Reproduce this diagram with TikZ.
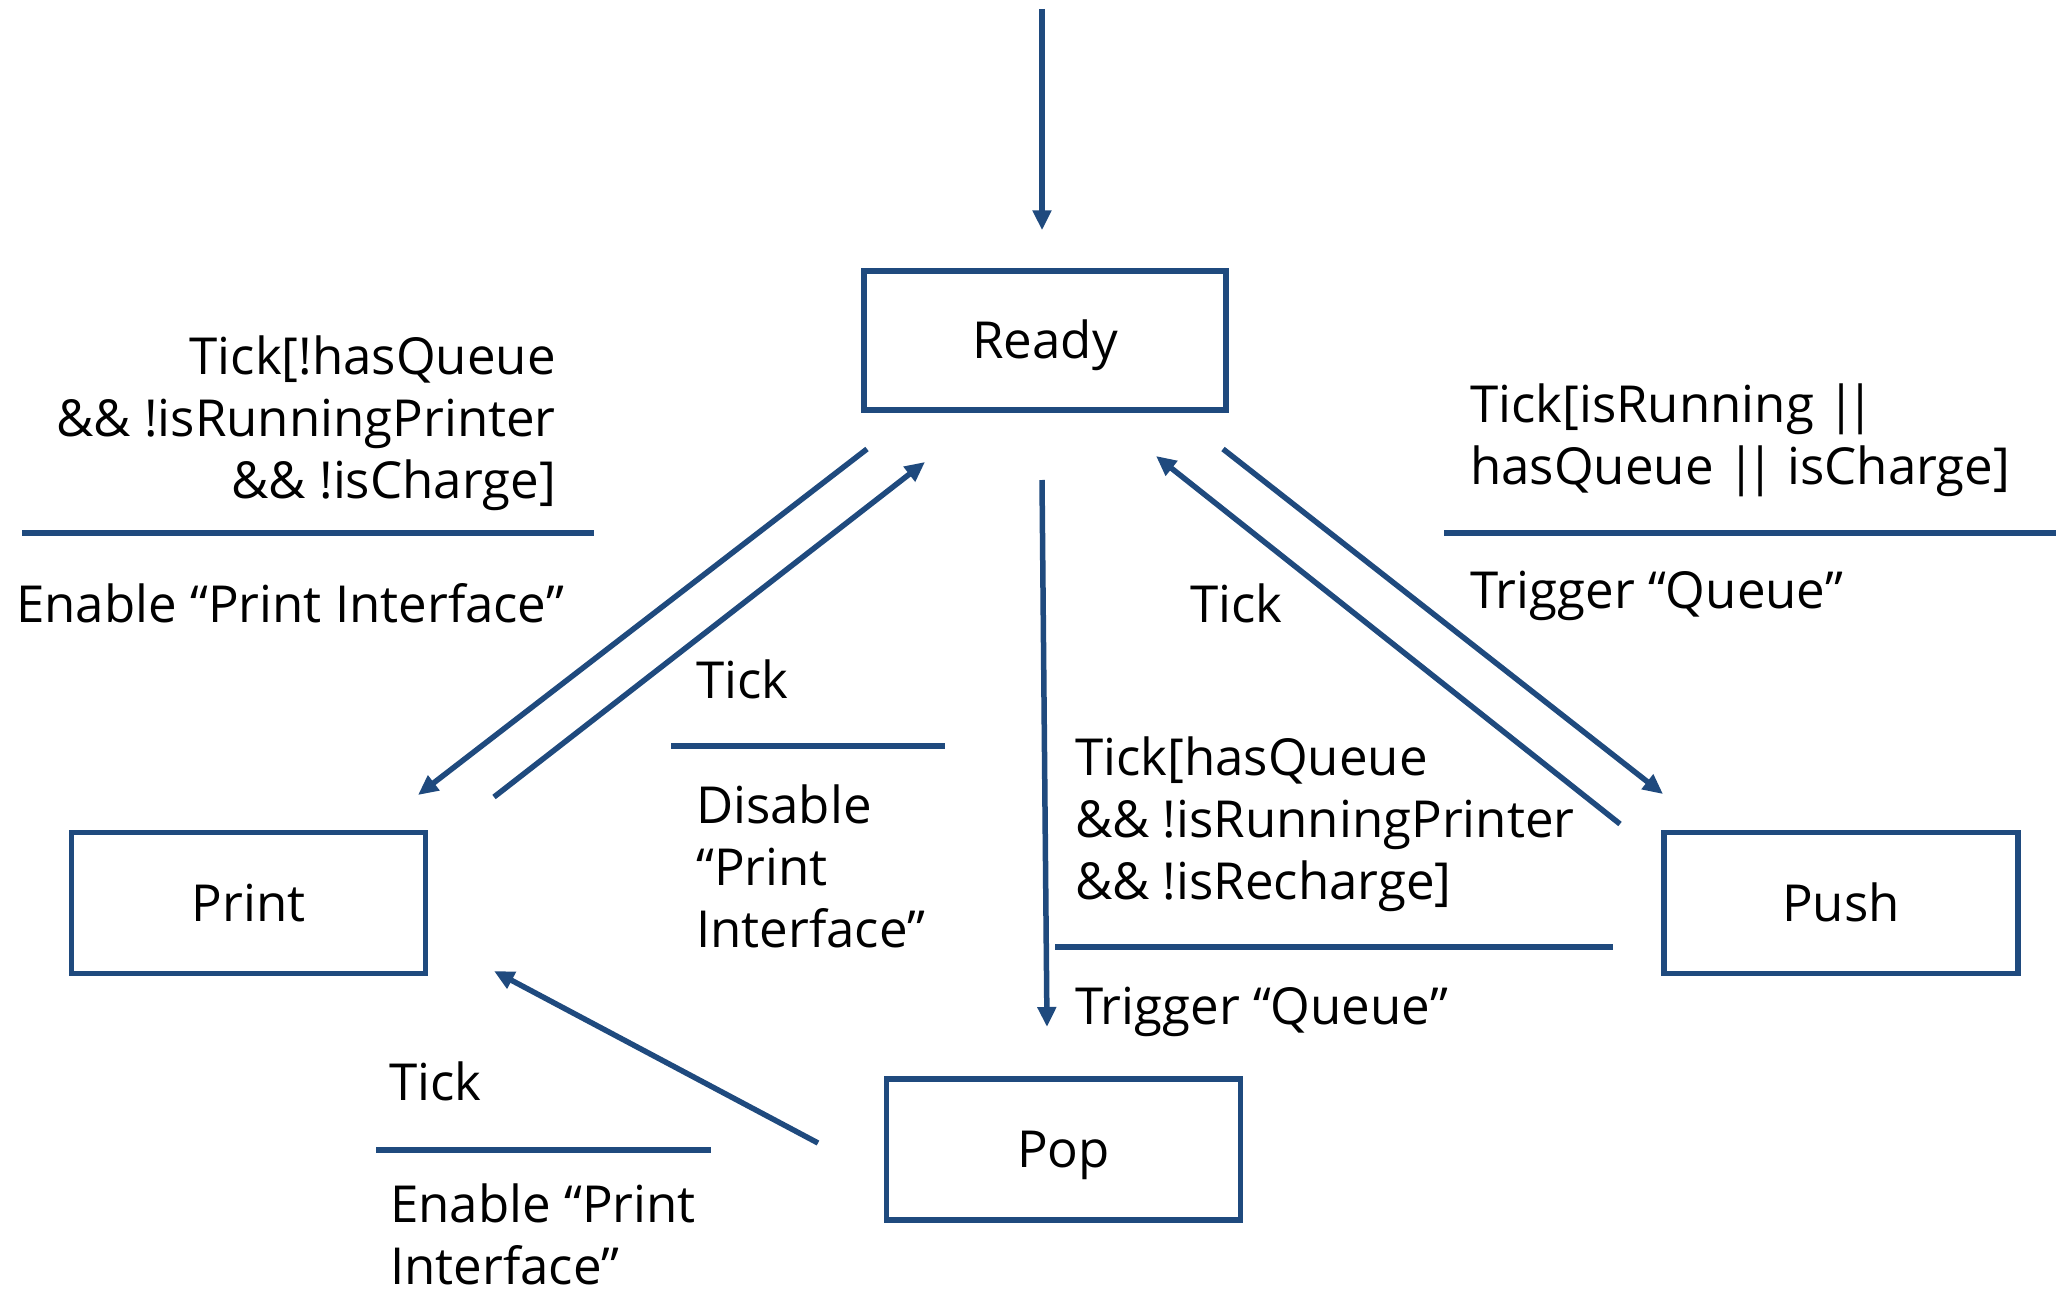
\documentclass[tikz,border=0pt]{standalone}
\usepackage{fontspec}
\setmainfont{Open Sans}
\usetikzlibrary{arrows.meta}
\definecolor{edge}{HTML}{1F4A7E}
\newcommand{\bars}{|\kern-9pt|}
\begin{document}
\begin{tikzpicture}[x=1pt,y=-1pt,
  statebox/.style={draw=edge, line width=5.5pt, minimum width=354pt, minimum height=141pt, inner sep=0pt, text height=36pt, text depth=-4pt, font=\fontsize{51}{62}\selectfont},
  trans/.style={draw=edge, line width=5.5pt, -{Triangle[length=20pt,width=18pt]}},
  sepline/.style={draw=edge, line width=5.5pt},
  lbl/.style={inner sep=0pt, font=\fontsize{51}{62}\selectfont, align=left, anchor=base west},
  lblr/.style={lbl, align=right, anchor=base east}]
\useasboundingbox (0,0) rectangle (2060,1292);
% states
\node[statebox, minimum width=362pt, minimum height=139pt] (ready) at (1045,340.5) {Ready};
\node[statebox] (print) at (248.5,903) {Print};
\node[statebox] (push) at (1841,903) {Push};
\node[statebox] (pop) at (1063.5,1149.5) {Pop};
% connector ends
\coordinate (init) at (1042,9);
\coordinate (rp1) at (867,449);   \coordinate (rp2) at (418,795);
\coordinate (pr1) at (494,797);   \coordinate (pr2) at (925,462);
\coordinate (ro1) at (1042,480);  \coordinate (ro2) at (1047,1027);
\coordinate (hr1) at (1620,824);  \coordinate (hr2) at (1156,456);
\coordinate (rh1) at (1223,449);  \coordinate (rh2) at (1663,794);
\coordinate (op1) at (818,1143);  \coordinate (op2) at (494,971);
% transitions
\draw[trans, shorten >=38pt] (init) -- (init |- ready.north);
\draw[trans] (rp1) -- (rp2);
\draw[trans] (pr1) -- (pr2);
\draw[trans] (ro1) -- (ro2);
\draw[trans] (hr1) -- (hr2);
\draw[trans] (rh1) -- (rh2);
\draw[trans] (op1) -- (op2);
% separators
\draw[sepline] (22,533) -- (594,533);
\draw[sepline] (671,746) -- (945,746);
\draw[sepline] (1055,947) -- (1613,947);
\draw[sepline] (1444,533) -- (2056,533);
\draw[sepline] (376,1150) -- (711,1150);
% labels (base anchor = baseline of the last line)
\node[lblr] (t1) at (556,498) {Tick[!hasQueue\\\&\& !isRunningPrinter\\\&\& !isCharge]};
\node[lbl] (t1b) at (16,622) {Enable “Print Interface”};
\node[lbl] (t2) at (696,698) {Tick};
\node[lbl] (t2b) at (696,947) {Disable\\“Print\\Interface”};
\node[lbl] (t3) at (1190,622) {Tick};
\node[lbl] (t4) at (1470,484) {Tick[isRunning \bars\\hasQueue \bars{} isCharge]};
\node[lbl] (t4b) at (1470,608) {Trigger “Queue”};
\node[lbl] (t5) at (1075,899) {Tick[hasQueue\\\&\& !isRunningPrinter\\\&\& !isRecharge]};
\node[lbl] (t5b) at (1075,1024) {Trigger “Queue”};
\node[lbl] (t6) at (389,1100) {Tick};
\node[lbl] (t6b) at (390,1284) {Enable “Print\\Interface”};
\end{tikzpicture}
\end{document}
